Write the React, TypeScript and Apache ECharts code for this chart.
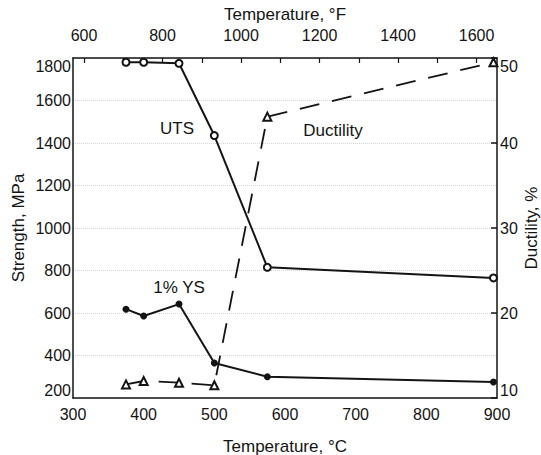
import React, { useEffect, useRef } from "react";
import * as echarts from "echarts";

// Data
const TEMP_C = [375, 400, 450, 500, 575, 895];
const UTS_MPA = [1780, 1780, 1775, 1435, 815, 765];
const YS_MPA = [618, 586, 642, 365, 300, 275];
const DUCTILITY_PCT = [11.6, 12.0, 11.8, 11.5, 43.1, 49.5];

const F_LABELS = [600, 800, 1000, 1200, 1400, 1600];
const F_TICKS = [600, 700, 800, 900, 1000, 1100, 1200, 1300, 1400, 1500, 1600];

const FONT = '"Liberation Sans", Arial, Helvetica, sans-serif';
const INK = "#141414";

const plain = (v: number) => String(v);
const labelStyle = { fontSize: 16, color: INK, fontFamily: FONT, formatter: plain };
const nameStyle = { fontSize: 17, color: INK, fontFamily: FONT };
const frameLine = { show: true, onZero: false, lineStyle: { color: INK, width: 1.5 } };

export default function App() {
  const ref = useRef<HTMLDivElement>(null);
  useEffect(() => {
    const chart = echarts.init(ref.current!, null, { renderer: "svg" });
    const pairs = (ys: number[]) => TEMP_C.map((t, i) => [t, ys[i]]);
    chart.setOption({
      animation: false,
      backgroundColor: "#ffffff",
      grid: { left: 73, right: 44, top: 58, bottom: 57, containLabel: false, outerBoundsMode: "none" },
      xAxis: [
        {
          type: "value",
          position: "bottom",
          min: 300,
          max: 900,
          interval: 100,
          axisLine: frameLine,
          axisTick: { show: false },
          axisLabel: { ...labelStyle, margin: 8 },
          splitLine: { show: false },
          name: "Temperature, °C",
          nameLocation: "middle",
          nameGap: 40,
          nameMoveOverlap: false,
          nameTextStyle: nameStyle,
        },
        {
          type: "value",
          position: "top",
          min: 572,
          max: 1652,
          axisLine: frameLine,
          axisTick: { show: true, inside: true, length: 5, customValues: F_TICKS, lineStyle: { color: INK, width: 1.2 } },
          axisLabel: { ...labelStyle, margin: 15, customValues: F_LABELS },
          splitLine: { show: false },
          name: "Temperature, °F",
          nameLocation: "middle",
          nameGap: 35,
          nameMoveOverlap: false,
          nameTextStyle: nameStyle,
        },
      ],
      yAxis: [
        {
          type: "value",
          position: "left",
          min: 200,
          max: 1800,
          interval: 200,
          axisLine: frameLine,
          axisTick: { show: false },
          axisLabel: { ...labelStyle, margin: 2, verticalAlignMinLabel: "bottom", verticalAlignMaxLabel: "top" },
          splitLine: { show: true, lineStyle: { color: "#d6d6d6", type: "dotted", width: 1 } },
          name: "Strength, MPa",
          nameLocation: "middle",
          nameGap: 46,
          nameRotate: 90,
          nameMoveOverlap: false,
          nameTextStyle: nameStyle,
        },
        {
          type: "value",
          position: "right",
          min: 10,
          max: 50,
          interval: 10,
          axisLine: frameLine,
          axisTick: { show: true, inside: true, length: 6, lineStyle: { color: INK, width: 1.5 } },
          axisLabel: { ...labelStyle, margin: 3, verticalAlignMinLabel: "bottom", verticalAlignMaxLabel: "top" },
          splitLine: { show: false },
          name: "Ductility, %",
          nameLocation: "middle",
          nameGap: 26,
          nameRotate: 90,
          nameMoveOverlap: false,
          nameTextStyle: nameStyle,
        },
      ],
      series: [
        {
          name: "UTS",
          type: "line",
          xAxisIndex: 0,
          yAxisIndex: 0,
          data: pairs(UTS_MPA),
          symbol: "emptyCircle",
          symbolSize: 7,
          itemStyle: { color: INK, borderWidth: 1.4 },
          lineStyle: { color: INK, width: 2 },
        },
        {
          name: "1% YS",
          type: "line",
          xAxisIndex: 0,
          yAxisIndex: 0,
          data: pairs(YS_MPA),
          symbol: "circle",
          symbolSize: 7,
          itemStyle: { color: INK },
          lineStyle: { color: INK, width: 2 },
        },
        {
          name: "Ductility",
          type: "line",
          xAxisIndex: 0,
          yAxisIndex: 1,
          data: pairs(DUCTILITY_PCT),
          symbol: "emptyTriangle",
          symbolSize: 8,
          itemStyle: { color: INK, borderWidth: 1.3 },
          lineStyle: { color: INK, width: 1.8, type: [20, 13] },
        },
      ],
      graphic: [
        { type: "text", x: 177, y: 128, style: { text: "UTS", fontSize: 17, fontFamily: FONT, fill: INK, align: "center", verticalAlign: "middle" } },
        { type: "text", x: 179, y: 287, style: { text: "1% YS", fontSize: 17, fontFamily: FONT, fill: INK, align: "center", verticalAlign: "middle" } },
        { type: "text", x: 333, y: 130, style: { text: "Ductility", fontSize: 17, fontFamily: FONT, fill: INK, align: "center", verticalAlign: "middle" } },
      ],
    });
    return () => chart.dispose();
  }, []);
  return <div ref={ref} style={{ position: "absolute", left: 0, top: 0, width: 541, height: 455 }} />;
}
